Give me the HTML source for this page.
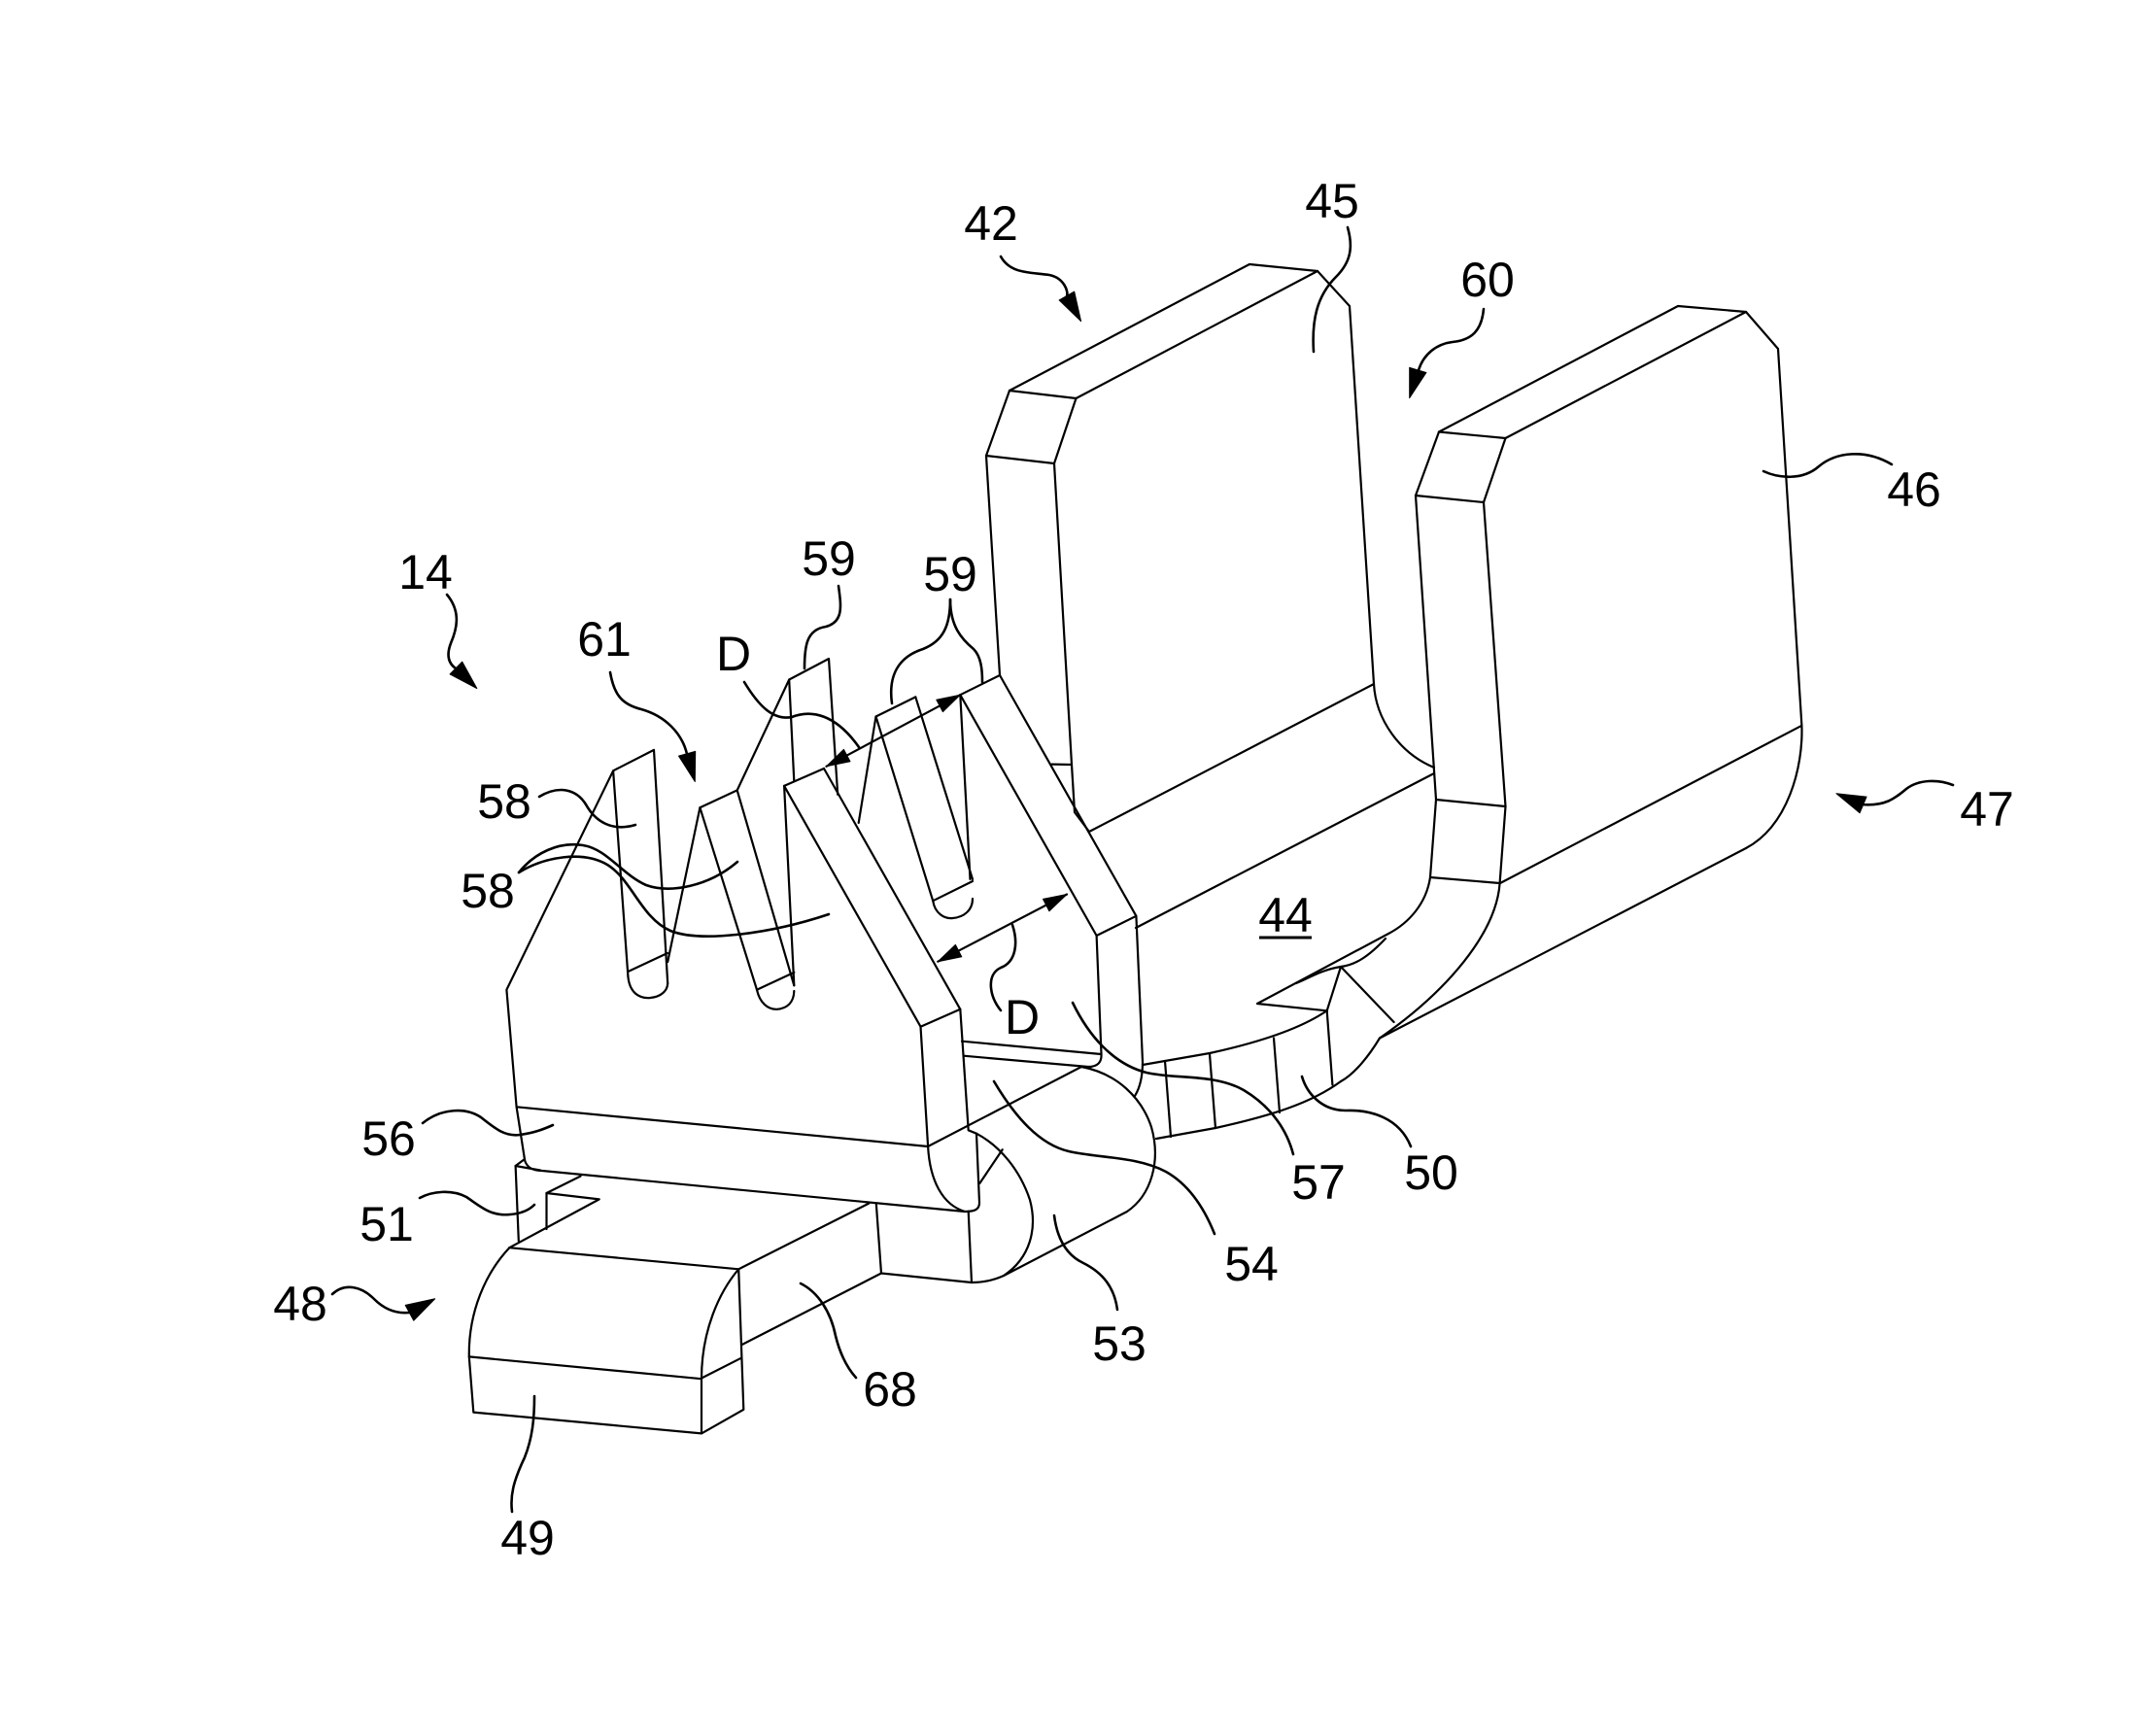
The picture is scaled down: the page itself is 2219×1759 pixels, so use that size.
<!DOCTYPE html>
<html>
<head>
<meta charset="utf-8">
<style>
html,body{margin:0;padding:0;background:#fff;}
svg{display:block;}
</style>
</head>
<body>
<svg width="2219" height="1759" viewBox="0 0 2219 1759" xmlns="http://www.w3.org/2000/svg">
<rect width="2219" height="1759" fill="#fff"/>
<g fill="none" stroke="#000" stroke-width="2.2" stroke-linejoin="round" stroke-linecap="round">
  <!-- Left fin 45 -->
  <path d="M1039,402 L1286,272 L1356,279 L1389,315 L1414,704"/>
  <path d="M1107.5,410 L1356,279"/>
  <path d="M1039,402 L1107.5,410"/>
  <path d="M1039,402 L1015,469 L1029,695"/>
  <path d="M1107.5,410 L1085,477 L1103,787 L1106,836 L1121,856"/>
  <path d="M1015,469 L1085,477"/>
  <path d="M1082.6,786.6 L1103,787"/>
  <path d="M1414,704 C1416,740 1440,775 1476,790"/>
  <path d="M1414,704 L1121,856"/>
  <path d="M1476,796 L1169,955"/>

  <!-- Right fin 46 -->
  <path d="M1481,444.5 L1727,315 L1797,321 L1830,359 L1854.4,746.8"/>
  <path d="M1549.5,451 L1797,321"/>
  <path d="M1481,444.5 L1549.5,451"/>
  <path d="M1481,444.5 L1457,510 L1478,823 L1472,903"/>
  <path d="M1549.5,451 L1527,517 L1549.5,830 L1543.6,909"/>
  <path d="M1457,510 L1527,517"/>
  <path d="M1478,823 L1549.5,830"/>
  <path d="M1472,903 L1543.6,909"/>
  <path d="M1854.4,746.8 C1856,790 1840,850 1797,873"/>
  <path d="M1854.4,746.8 L1544,909"/>
  <path d="M1797,873 L1420,1068.5"/>
  <path d="M1543.6,909 C1540,960 1490,1020 1420,1068.5"/>
  <path d="M1472,903 C1468,930 1450,950 1429,961 L1294,1033 L1365.7,1040.3"/>
  <path d="M1426,966 C1408,985 1395,993 1380,995 C1360,998 1345,1008 1334,1012"/>
  <path d="M1380,995 L1365.7,1040.3"/>
  <path d="M1380,995 L1434.6,1052"/>

  <!-- Bottom band 50/57 -->
  <path d="M1366,1040 C1340,1058 1300,1072 1245,1084 L1176,1096"/>
  <path d="M1380,1113 C1350,1135 1310,1148 1251,1161 L1190,1172"/>
  <path d="M1380,1113 C1395,1105 1410,1085 1420,1068.5"/>
  <path d="M1199,1092 L1205,1170"/>
  <path d="M1245,1085 L1251,1161"/>
  <path d="M1311,1068.5 L1317,1145"/>
  <path d="M1365.7,1040.3 L1371.4,1116.6"/>

  <!-- Rear panel -->
  <path d="M988.3,715.2 L1029,695"/>
  <path d="M1029,695 L1169.4,942.8 L1176,1093 C1176,1110 1173,1120 1168,1128"/>
  <path d="M988.3,715.2 L1128.6,963 L1133.5,1085 C1134,1093 1130,1098 1120,1098 L991.7,1086.7"/>
  <path d="M1128.6,963 L1169.4,942.8"/>
  <path d="M988.3,715.2 L998.5,905"/>
  <path d="M990,1071.7 L1133.3,1085"/>

  <!-- Front panel 54 -->
  <path d="M807.1,808.9 L848,791"/>
  <path d="M807.1,808.9 L947.5,1056.7 L955.1,1180 C957,1215 970,1240 993,1247"/>
  <path d="M848,791 L988.3,1038.8"/>
  <path d="M947.5,1056.7 L988.3,1038.8"/>
  <path d="M807.1,808.9 L817.3,1014.3"/>
  <path d="M988.3,1038.8 L996.7,1163.3 L1005,1166.7"/>
  <path d="M1005,1167 L1008,1238 C1008,1245 1003,1247 993,1247"/>
  <path d="M1008.3,1218 L1031.7,1183.3"/>
  <path d="M955,1180 L1113,1098"/>

  <!-- Roller 53 -->
  <path d="M1113,1098 C1150,1105 1175,1130 1185,1160 C1195,1195 1185,1230 1160,1247 L1033,1313 C1022,1318 1010,1320 1000,1320"/>
  <path d="M1005,1166.7 C1030,1180 1050,1205 1060,1235 C1068,1265 1060,1295 1033,1313"/>

  <!-- Comb plate 56 with teeth 58/59 -->
  <path d="M531.6,1139.3 L521.4,1018.7 L631.1,793.3 L673,771.9 L687.2,1012"/>
  <path d="M687.2,990 L720.4,831.2 L758.7,813.4 L812.2,699.5 L853,678 L862.2,817.8"/>
  <path d="M631.1,793.3 L646.4,1005"/>
  <path d="M646.4,1000 L687,981"/>
  <path d="M646.4,1005 C648,1022 658,1028 669.4,1027 C680,1026 687,1020 687.2,1012"/>
  <path d="M720.4,831.2 L779,1018.7"/>
  <path d="M758.7,813.4 L817.3,1014.3"/>
  <path d="M779,1018.7 L817.3,1000.9"/>
  <path d="M779,1018.7 C782,1032 790,1039 799.5,1038.8 C810,1038 817,1032 817.3,1020"/>
  <path d="M812.2,699.5 L817.3,804.4"/>
  <path d="M883.7,846.9 L901.5,737.5 L942.3,717.4"/>
  <path d="M901.5,737.5 L960.2,927.2"/>
  <path d="M942.3,717.4 L1001,904.9"/>
  <path d="M960.2,927.2 L1001,907"/>
  <path d="M960.2,927 C962,940 972,946 980.6,945 C992,944 1001,937 1001,925"/>
  <path d="M531.6,1139.3 L955.1,1180"/>
  <path d="M531.6,1139.3 L540.2,1194.7 C543,1203 550,1205 558,1205 L993,1247"/>

  <!-- Step 51 -->
  <path d="M530.6,1200 L540,1193"/>
  <path d="M530.6,1200 L556,1204.5"/>
  <path d="M530.6,1200 L533.8,1277.2"/>
  <path d="M562.5,1228 L616.7,1234.4 L524.3,1284.2"/>
  <path d="M562.5,1228 L562.5,1265"/>
  <path d="M562.5,1228 L597.6,1210.5"/>

  <!-- Block 49 -->
  <path d="M524.3,1284.2 L760.2,1306.3"/>
  <path d="M524.3,1284.2 C500,1310 482,1350 482.8,1396.4 L487.3,1453.6 L722,1475.4 L765.3,1450.8 L760.2,1306.3"/>
  <path d="M760.2,1306.3 C740,1330 722,1370 722,1419.2 L722,1475.4"/>
  <path d="M482.8,1396.4 L722,1419.2"/>
  <path d="M722,1418.5 L762,1398.2"/>

  <!-- Arm 68 -->
  <path d="M760.2,1306.3 L894.2,1238.6"/>
  <path d="M763.4,1384.1 L907,1310.5"/>
  <path d="M901.8,1238.6 L907,1310.5"/>
  <path d="M907,1310.5 L1000,1320"/>
  <path d="M996.7,1246.7 L1000,1320"/>

  <!-- D dimension lines -->
  <path d="M850.5,788.8 L988.3,715.2"/>
  <path d="M965.3,989.7 L1098,920.5"/>
</g>

<!-- Leader lines -->
<g fill="none" stroke="#000" stroke-width="2.6" stroke-linecap="round">
  <path d="M1030,264 C1040,282 1060,280 1080,283 C1095,286 1100,300 1098,305"/>
  <path d="M1387,234 C1393,255 1390,270 1375,285 C1355,305 1350,330 1352,362"/>
  <path d="M1527,318 C1525,340 1515,350 1495,352 C1478,354 1465,365 1460,381"/>
  <path d="M1815,485 C1830,492 1855,495 1872,480 C1890,465 1920,462 1947,478"/>
  <path d="M1916,828 C1940,830 1950,822 1962,812 C1975,802 1995,802 2010,808"/>
  <path d="M460,612 C475,630 470,648 464,662 C459,675 462,683 469,688"/>
  <path d="M628,692 C632,715 640,725 660,730 C685,737 702,755 707,776"/>
  <path d="M766,702 C780,725 795,742 815,738 C835,730 860,735 884,769"/>
  <path d="M863,603 C866,625 868,640 850,645 C830,648 828,665 828,688"/>
  <path d="M978,617 C978,645 970,660 950,668 C925,676 914,695 918,724"/>
  <path d="M978,617 C978,645 990,658 1002,668 C1010,676 1011,690 1011,702"/>
  <path d="M555,820 C575,808 593,812 603,828 C613,846 630,856 654,849"/>
  <path d="M534,898 C550,878 575,866 600,870 C625,874 640,900 665,911 C690,920 730,912 759,887"/>
  <path d="M534,898 C560,882 600,875 625,890 C650,905 660,945 690,958 C720,970 790,962 853,941"/>
  <path d="M1042,952 C1048,970 1046,990 1030,996 C1015,1003 1018,1025 1030,1040"/>
  <path d="M435,1156 C455,1140 480,1140 495,1150 C510,1162 520,1170 535,1168 C550,1166 560,1162 569,1158"/>
  <path d="M432,1233 C445,1226 465,1224 480,1232 C495,1242 505,1252 525,1250 C538,1249 545,1245 550,1240"/>
  <path d="M342,1332 C355,1320 372,1324 385,1337 C397,1349 410,1352 421,1351"/>
  <path d="M550,1437 C550,1460 548,1480 540,1500 C528,1525 525,1540 527,1556"/>
  <path d="M824,1321 C842,1330 855,1350 860,1375 C865,1395 872,1408 881,1418"/>
  <path d="M1085,1251 C1088,1275 1098,1292 1115,1300 C1135,1310 1147,1325 1150,1348"/>
  <path d="M1023,1113 C1045,1150 1070,1178 1100,1185 C1130,1192 1170,1190 1200,1206 C1225,1220 1240,1245 1250,1270"/>
  <path d="M1104,1032 C1120,1065 1145,1095 1180,1104 C1210,1111 1250,1105 1280,1122 C1310,1140 1325,1165 1331,1188"/>
  <path d="M1340,1108 C1345,1125 1360,1143 1385,1143 C1410,1142 1440,1150 1452,1180"/>
</g>

<!-- Arrowheads -->
<g fill="#000" stroke="#000" stroke-width="1" stroke-linejoin="round">
  <polygon points="1112.6,330.7 1090.1,308.9 1105.7,300.1"/>
  <polygon points="1450.7,409.6 1450.7,378.3 1467.9,383.5"/>
  <polygon points="1890,816.7 1921.1,820.1 1914.1,836.7"/>
  <polygon points="490.8,708.5 463.1,693.9 475.7,681.1"/>
  <polygon points="715.3,804.5 698.5,778.1 715.7,773.3"/>
  <polygon points="447.7,1336.8 425.8,1359.2 417.2,1343.4"/>
  <polygon points="988.3,715.2 970.4,732.7 963.8,720.3"/>
  <polygon points="850.5,788.8 875,783.7 868.4,771.3"/>
  <polygon points="1098,920.5 1079.9,937.8 1073.5,925.4"/>
  <polygon points="965.3,989.7 989.8,984.8 983.4,972.4"/>
</g>

<!-- Labels -->
<g font-family="'Liberation Sans', Arial, sans-serif" font-size="50" fill="#000" text-anchor="middle">
  <text x="1020" y="247">42</text>
  <text x="1371" y="224">45</text>
  <text x="1531" y="305">60</text>
  <text x="1970" y="521">46</text>
  <text x="2045" y="850">47</text>
  <text x="438" y="606">14</text>
  <text x="622" y="675">61</text>
  <text x="755" y="690">D</text>
  <text x="853" y="592">59</text>
  <text x="978" y="608">59</text>
  <text x="519" y="842">58</text>
  <text x="502" y="934">58</text>
  <text x="1052" y="1064">D</text>
  <text x="1323" y="959">44</text>
  <text x="1357" y="1234">57</text>
  <text x="1473" y="1224">50</text>
  <text x="1288" y="1318">54</text>
  <text x="1152" y="1400">53</text>
  <text x="916" y="1447">68</text>
  <text x="543" y="1600">49</text>
  <text x="309" y="1359">48</text>
  <text x="400" y="1189">56</text>
  <text x="398" y="1277">51</text>
</g>
<line x1="1296" y1="965" x2="1350" y2="965" stroke="#000" stroke-width="3"/>
</svg>
</body>
</html>
